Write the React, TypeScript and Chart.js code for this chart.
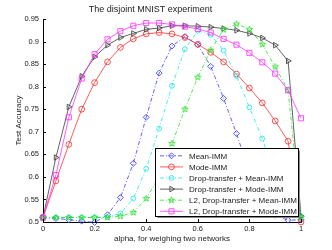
import React, { useEffect, useRef } from 'react';
import { Chart, registerables } from 'chart.js';
import { drawPoint } from 'chart.js/helpers';

Chart.register(...registerables);

const FONT = '"Liberation Sans", Arial, Helvetica, sans-serif';

const alpha = [0, 0.05, 0.1, 0.15, 0.2, 0.25, 0.3, 0.35, 0.4, 0.45, 0.5, 0.55, 0.6, 0.65, 0.7, 0.75, 0.8, 0.85, 0.9, 0.95, 1];
const meanIMM = [0.51, 0.508, 0.505, 0.502, 0.499, 0.516, 0.554, 0.63, 0.732, 0.83, 0.89, 0.911, 0.893, 0.845, 0.774, 0.696, 0.61, 0.55, 0.515, 0.504, 0.505];
const modeIMM = [0.51, 0.591, 0.672, 0.75, 0.809, 0.855, 0.887, 0.906, 0.917, 0.92, 0.917, 0.909, 0.894, 0.876, 0.855, 0.828, 0.797, 0.764, 0.724, 0.679, 0.5];
const dropMeanIMM = [0.51, 0.51, 0.51, 0.51, 0.51, 0.511, 0.519, 0.552, 0.618, 0.707, 0.802, 0.883, 0.924, 0.915, 0.88, 0.824, 0.754, 0.685, 0.6, 0.535, 0.513];
const dropModeIMM = [0.51, 0.643, 0.755, 0.823, 0.866, 0.892, 0.909, 0.918, 0.927, 0.93, 0.935, 0.935, 0.934, 0.932, 0.929, 0.925, 0.918, 0.908, 0.892, 0.857, 0.513];
const l2DropMeanIMM = [0.51, 0.51, 0.51, 0.51, 0.51, 0.51, 0.513, 0.521, 0.552, 0.6, 0.674, 0.75, 0.821, 0.881, 0.926, 0.939, 0.927, 0.894, 0.844, 0.792, 0.51];
const l2DropModeIMM = [0.51, 0.604, 0.732, 0.818, 0.872, 0.905, 0.923, 0.935, 0.941, 0.941, 0.938, 0.933, 0.928, 0.92, 0.906, 0.893, 0.875, 0.854, 0.829, 0.792, 0.73];

const seriesNames = [
  'Mean-IMM',
  'Mode-IMM',
  'Drop-transfer + Mean-IMM',
  'Drop-transfer + Mode-IMM',
  'L2, Drop-transfer + Mean-IMM',
  'L2, Drop-transfer + Mode-IMM',
];
const seriesValues = [meanIMM, modeIMM, dropMeanIMM, dropModeIMM, l2DropMeanIMM, l2DropModeIMM];

const xTicks = [0, 0.2, 0.4, 0.6, 0.8, 1];
const yTicks = [0.5, 0.55, 0.6, 0.65, 0.7, 0.75, 0.8, 0.85, 0.9, 0.95];

function makeStar(color: string, r: number): HTMLCanvasElement {
  const size = Math.ceil(r * 2 + 2);
  const c = document.createElement('canvas');
  c.width = size;
  c.height = size;
  const g = c.getContext('2d')!;
  const cx = size / 2;
  const cy = size / 2;
  g.beginPath();
  for (let i = 0; i < 10; i++) {
    const rr = i % 2 === 0 ? r : r * 0.4;
    const a = -Math.PI / 2 + (i * Math.PI) / 5;
    const px = cx + rr * Math.cos(a);
    const py = cy + rr * Math.sin(a);
    if (i === 0) g.moveTo(px, py);
    else g.lineTo(px, py);
  }
  g.closePath();
  g.strokeStyle = color;
  g.lineWidth = 0.9;
  g.stroke();
  return c;
}

const DASHDOT = [4, 2, 1, 2];

const styles = [
  { color: '#3a3aff', dash: DASHDOT, point: 'rectRot', radius: 3, rotation: 0 },
  { color: '#ff3333', dash: [], point: 'circle', radius: 2.9, rotation: 0 },
  { color: '#22e6e6', dash: DASHDOT, point: 'circle', radius: 2.4, rotation: 0 },
  { color: '#3c3c3c', dash: [], point: 'triangle', radius: 3.2, rotation: 90 },
  { color: '#2ee02e', dash: DASHDOT, point: 'star', radius: 3.2, rotation: 0 },
  { color: '#ff33ff', dash: [], point: 'rect', radius: 3.6, rotation: 0 },
];

const innerTicks = {
  id: 'innerTicks',
  afterDraw(chart: any) {
    const { ctx, chartArea, scales } = chart;
    ctx.save();
    ctx.strokeStyle = '#000';
    ctx.lineWidth = 1;
    ctx.beginPath();
    scales.x.ticks.forEach((t: any) => {
      const x = Math.round(scales.x.getPixelForValue(t.value)) + 0.5;
      ctx.moveTo(x, chartArea.bottom);
      ctx.lineTo(x, chartArea.bottom - 3);
    });
    scales.y.ticks.forEach((t: any) => {
      const y = Math.round(scales.y.getPixelForValue(t.value)) + 0.5;
      ctx.moveTo(chartArea.left, y);
      ctx.lineTo(chartArea.left + 3, y);
    });
    ctx.stroke();
    ctx.restore();
  },
};

const innerLegend = {
  id: 'innerLegend',
  afterDraw(chart: any) {
    const ctx = chart.ctx;
    const x0 = 155.5;
    const y0 = 148.5;
    const w = 143;
    const h = 68;
    ctx.save();
    ctx.fillStyle = '#fff';
    ctx.fillRect(x0, y0, w, h);
    ctx.strokeStyle = '#8a8a8a';
    ctx.lineWidth = 1;
    ctx.beginPath();
    ctx.moveTo(x0 + w + 1, y0 + 2);
    ctx.lineTo(x0 + w + 1, y0 + h + 1);
    ctx.lineTo(x0 + 2, y0 + h + 1);
    ctx.stroke();
    ctx.strokeStyle = '#000';
    ctx.strokeRect(x0, y0, w, h);
    chart.data.datasets.forEach((ds: any, i: number) => {
      const y = y0 + 7.3 + i * 11.1;
      ctx.strokeStyle = ds.borderColor;
      ctx.lineWidth = ds.borderWidth;
      ctx.setLineDash(ds.borderDash || []);
      ctx.beginPath();
      ctx.moveTo(160, y);
      ctx.lineTo(183, y);
      ctx.stroke();
      ctx.setLineDash([]);
      ctx.fillStyle = 'rgba(0,0,0,0)';
      ctx.strokeStyle = ds.pointBorderColor;
      ctx.lineWidth = ds.pointBorderWidth;
      drawPoint(ctx, {
        pointStyle: ds.pointStyle,
        radius: ds.pointRadius,
        rotation: ds.pointRotation || 0,
        borderWidth: ds.pointBorderWidth,
      } as any, 171.5, y);
      ctx.fillStyle = '#1a1a1a';
      ctx.font = `8px ${FONT}`;
      ctx.textBaseline = 'middle';
      ctx.textAlign = 'left';
      ctx.fillText(seriesNames[i], 189, y + 0.5);
    });
    ctx.restore();
  },
};

export default function App() {
  const ref = useRef<HTMLCanvasElement>(null);
  useEffect(() => {
    const canvas = ref.current!;
    const starImg = makeStar(styles[4].color, 3.3);
    const datasets = seriesValues.map((vals, i) => {
      const s = styles[i];
      return {
        label: seriesNames[i],
        data: vals.map((v, j) => ({ x: alpha[j], y: v })),
        borderColor: s.color,
        borderWidth: 0.8,
        borderDash: s.dash,
        pointStyle: s.point === 'star' ? starImg : s.point,
        pointRadius: s.radius,
        pointRotation: s.rotation,
        pointBorderColor: s.color,
        pointBackgroundColor: 'rgba(0,0,0,0)',
        pointBorderWidth: 0.85,
        fill: false,
        tension: 0,
        clip: false as any,
        order: seriesValues.length - i,
      };
    });
    const chart = new Chart(canvas, {
      type: 'line',
      data: { datasets } as any,
      plugins: [innerTicks, innerLegend],
      options: {
        responsive: false,
        animation: false,
        layout: { padding: { left: 0, right: 31, top: 0, bottom: 0 } },
        plugins: {
          legend: { display: false },
          tooltip: { enabled: false },
          title: {
            display: true,
            text: 'The disjoint MNIST experiment',
            color: '#222',
            font: { family: FONT, size: 9, weight: 'normal' },
            padding: { top: 3.8, bottom: 4.4 },
          },
        },
        scales: {
          x: {
            type: 'linear',
            min: 0,
            max: 1,
            afterFit: (s: any) => {
              s.height = 28;
            },
            afterBuildTicks: (s: any) => {
              s.ticks = xTicks.map((v) => ({ value: v }));
            },
            grid: { display: false, drawTicks: false },
            border: { display: true, color: '#000', width: 1 },
            ticks: {
              color: '#222',
              font: { family: FONT, size: 7.5 },
              padding: 2.5,
              maxRotation: 0,
              callback: (v: any) => String(Math.round(Number(v) * 100) / 100),
            },
            title: {
              display: true,
              text: 'alpha, for weighing two networks',
              color: '#222',
              font: { family: FONT, size: 8 },
              padding: { top: 0, bottom: 6.2 },
            },
          },
          y: {
            type: 'linear',
            min: 0.5,
            max: 0.95,
            afterFit: (s: any) => {
              s.width = 43;
            },
            afterBuildTicks: (s: any) => {
              s.ticks = yTicks.map((v) => ({ value: v }));
            },
            grid: { display: false, drawTicks: false },
            border: { display: true, color: '#000', width: 1 },
            ticks: {
              color: '#222',
              font: { family: FONT, size: 7.5 },
              padding: 4,
              callback: (v: any) => String(Math.round(Number(v) * 100) / 100),
            },
            title: {
              display: true,
              text: 'Test Accuracy',
              color: '#222',
              font: { family: FONT, size: 8 },
              padding: { top: 14.2, bottom: 0 },
            },
          },
        },
      } as any,
    });
    return () => chart.destroy();
  }, []);
  return (
    <div style={{ position: 'absolute', left: 0, top: 0, width: 332, height: 250, background: '#fff' }}>
      <canvas ref={ref} width={332} height={250} style={{ width: 332, height: 250, display: 'block' }} />
    </div>
  );
}
